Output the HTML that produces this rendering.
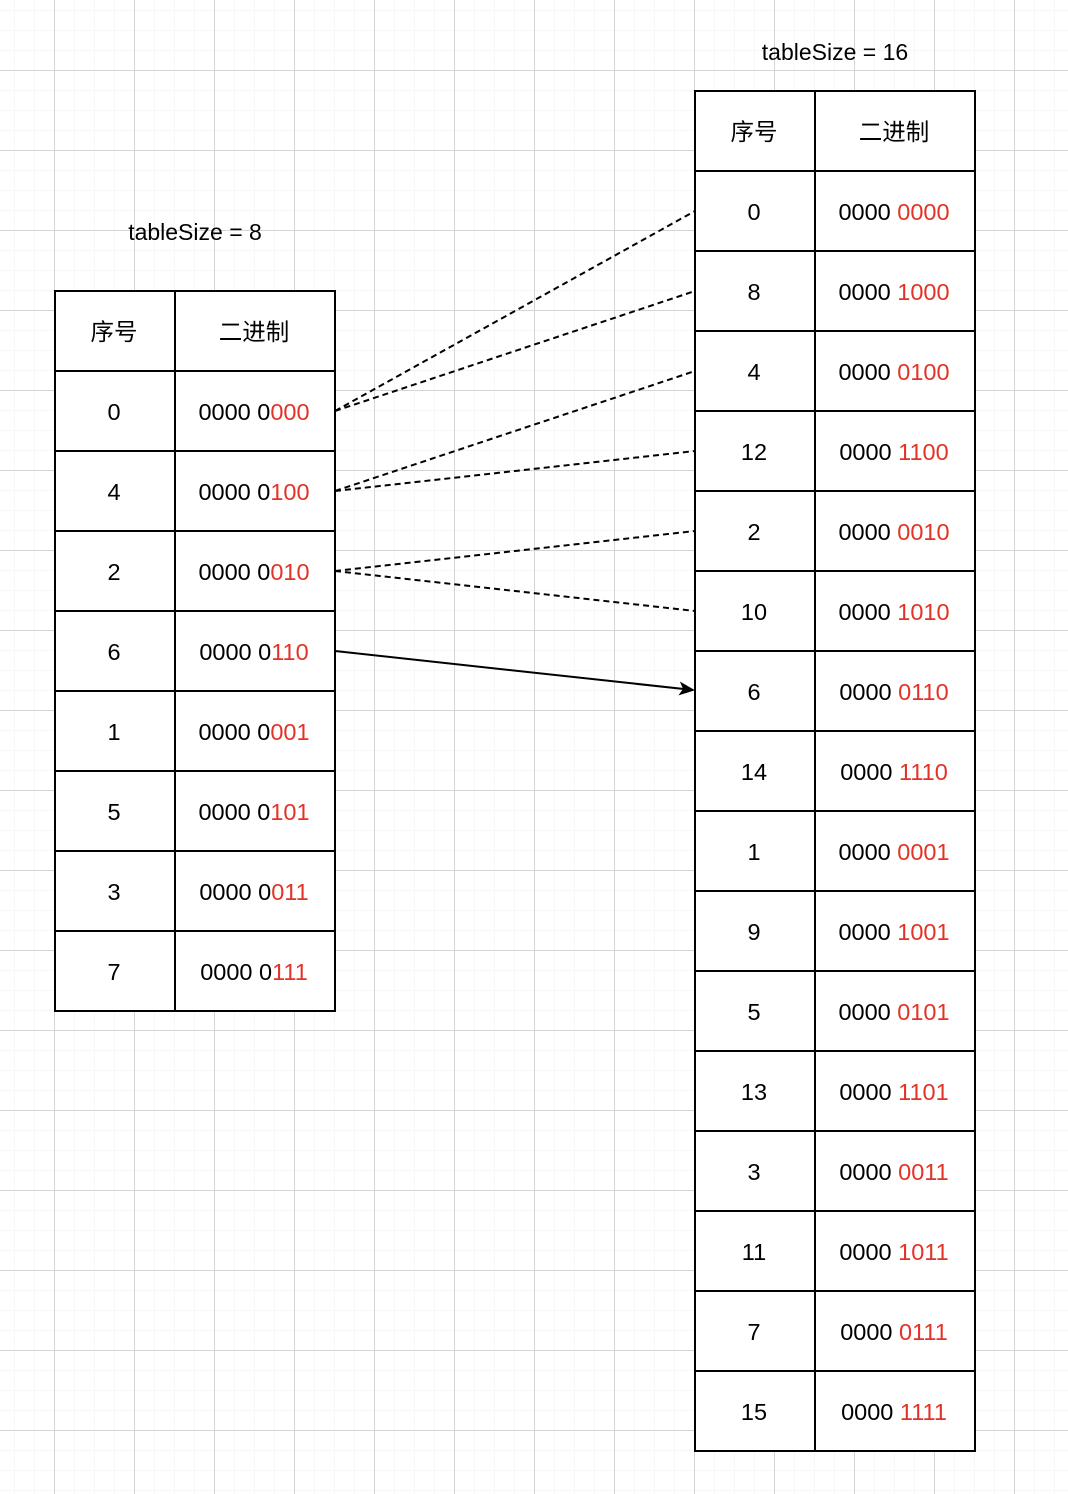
<!DOCTYPE html>
<html><head><meta charset="utf-8"><style>
body{margin:0;width:1068px;height:1494px;overflow:hidden;background:#fff;font-family:"Liberation Sans","Noto Sans CJK SC",sans-serif;}
</style></head><body>
<svg width="1068" height="1494" xmlns="http://www.w3.org/2000/svg" style="position:absolute;left:0;top:0">
<defs>
<pattern id="minor" width="20" height="20" patternUnits="userSpaceOnUse" x="14" y="10">
<path d="M0 0H20M0 0V20" stroke="#efefef" stroke-width="1" fill="none"/></pattern>
<pattern id="major" width="80" height="80" patternUnits="userSpaceOnUse" x="54" y="70">
<path d="M0 0.5H80M0.5 0V80" stroke="#d4d4d4" stroke-width="1" fill="none"/></pattern>
<marker id="ah" markerWidth="16" markerHeight="14" refX="14" refY="7" orient="auto" markerUnits="userSpaceOnUse">
<path d="M0 0L16 7L0 14L4 7Z" fill="#000"/></marker>
</defs>
<rect width="1068" height="1494" fill="url(#minor)"/>
<rect width="1068" height="1494" fill="url(#major)"/>
<g font-size="23" text-anchor="middle" fill="#000">
<text x="195" y="240">tableSize = 8</text>
<text x="835" y="60">tableSize = 16</text>
</g>
<g stroke="#000" stroke-width="2" stroke-dasharray="6,4" fill="none">
<path d="M335 411L695 211M335 411L695 291M335 491L695 371M335 491L695 451M335 571L695 531M335 571L695 611"/>
</g>
<path d="M335 651L693 690" stroke="#000" stroke-width="2" marker-end="url(#ah)"/>
</svg>
<svg width="1068" height="1494" xmlns="http://www.w3.org/2000/svg" style="position:absolute;left:0;top:0" font-size="23.5" text-anchor="middle">
<rect x="55" y="291" width="280" height="720" fill="#fff" stroke="#000" stroke-width="2"/>
<path d="M175 291V1011M55 371H335M55 451H335M55 531H335M55 611H335M55 691H335M55 771H335M55 851H335M55 931H335" stroke="#000" stroke-width="2"/>
<text x="114" y="340">序号</text><text x="254" y="340">二进制</text>
<text x="114" y="420">0</text><text x="254" y="420">0000 0<tspan fill="#e33327">000</tspan></text>
<text x="114" y="500">4</text><text x="254" y="500">0000 0<tspan fill="#e33327">100</tspan></text>
<text x="114" y="580">2</text><text x="254" y="580">0000 0<tspan fill="#e33327">010</tspan></text>
<text x="114" y="660">6</text><text x="254" y="660">0000 0<tspan fill="#e33327">110</tspan></text>
<text x="114" y="740">1</text><text x="254" y="740">0000 0<tspan fill="#e33327">001</tspan></text>
<text x="114" y="820">5</text><text x="254" y="820">0000 0<tspan fill="#e33327">101</tspan></text>
<text x="114" y="900">3</text><text x="254" y="900">0000 0<tspan fill="#e33327">011</tspan></text>
<text x="114" y="980">7</text><text x="254" y="980">0000 0<tspan fill="#e33327">111</tspan></text>
<rect x="695" y="91" width="280" height="1360" fill="#fff" stroke="#000" stroke-width="2"/>
<path d="M815 91V1451M695 171H975M695 251H975M695 331H975M695 411H975M695 491H975M695 571H975M695 651H975M695 731H975M695 811H975M695 891H975M695 971H975M695 1051H975M695 1131H975M695 1211H975M695 1291H975M695 1371H975" stroke="#000" stroke-width="2"/>
<text x="754" y="140">序号</text><text x="894" y="140">二进制</text>
<text x="754" y="220">0</text><text x="894" y="220">0000 <tspan fill="#e33327">0000</tspan></text>
<text x="754" y="300">8</text><text x="894" y="300">0000 <tspan fill="#e33327">1000</tspan></text>
<text x="754" y="380">4</text><text x="894" y="380">0000 <tspan fill="#e33327">0100</tspan></text>
<text x="754" y="460">12</text><text x="894" y="460">0000 <tspan fill="#e33327">1100</tspan></text>
<text x="754" y="540">2</text><text x="894" y="540">0000 <tspan fill="#e33327">0010</tspan></text>
<text x="754" y="620">10</text><text x="894" y="620">0000 <tspan fill="#e33327">1010</tspan></text>
<text x="754" y="700">6</text><text x="894" y="700">0000 <tspan fill="#e33327">0110</tspan></text>
<text x="754" y="780">14</text><text x="894" y="780">0000 <tspan fill="#e33327">1110</tspan></text>
<text x="754" y="860">1</text><text x="894" y="860">0000 <tspan fill="#e33327">0001</tspan></text>
<text x="754" y="940">9</text><text x="894" y="940">0000 <tspan fill="#e33327">1001</tspan></text>
<text x="754" y="1020">5</text><text x="894" y="1020">0000 <tspan fill="#e33327">0101</tspan></text>
<text x="754" y="1100">13</text><text x="894" y="1100">0000 <tspan fill="#e33327">1101</tspan></text>
<text x="754" y="1180">3</text><text x="894" y="1180">0000 <tspan fill="#e33327">0011</tspan></text>
<text x="754" y="1260">11</text><text x="894" y="1260">0000 <tspan fill="#e33327">1011</tspan></text>
<text x="754" y="1340">7</text><text x="894" y="1340">0000 <tspan fill="#e33327">0111</tspan></text>
<text x="754" y="1420">15</text><text x="894" y="1420">0000 <tspan fill="#e33327">1111</tspan></text>
</svg>
</body></html>
